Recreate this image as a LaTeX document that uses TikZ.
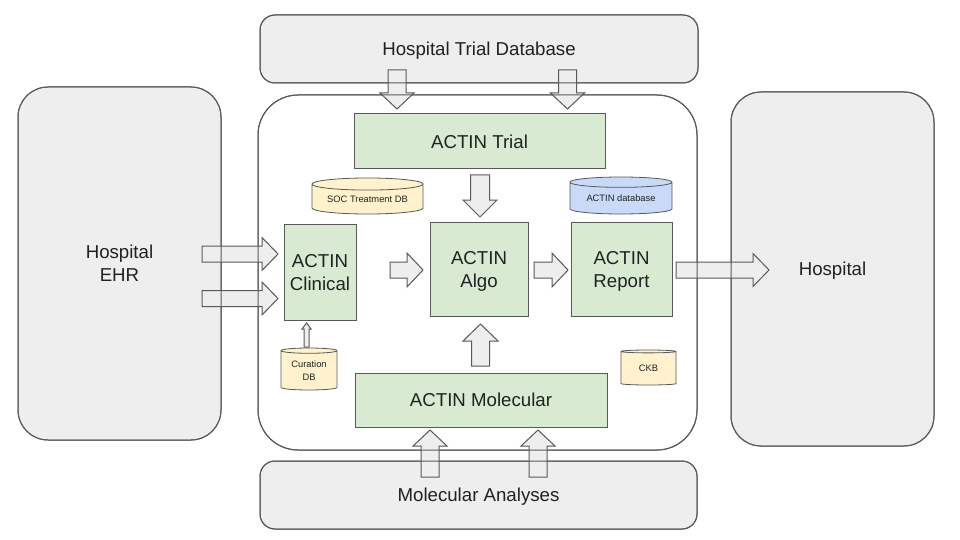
\documentclass[tikz,border=0pt]{standalone}
\usepackage{fontspec}
\setmainfont{Liberation Sans}
\usetikzlibrary{shapes,calc,positioning}
\definecolor{boxgray}{HTML}{EEEEEE}
\definecolor{linegray}{HTML}{595959}
\definecolor{actgreen}{HTML}{D9EAD3}
\definecolor{dbyellow}{HTML}{FFF2CC}
\definecolor{dbblue}{HTML}{C9DAF8}
\definecolor{textdark}{HTML}{202124}
\newcommand{\bigfont}{\fontsize{18.67}{23}\selectfont}
\newcommand{\smallfont}{\fontsize{9.33}{13}\selectfont}
\newcommand{\blockarrow}[5]{%
  \coordinate (ba-s) at (#1);
  \coordinate (ba-e) at (#2);
  \coordinate (ba-h) at ($(ba-e)!#5!(ba-s)$);
  \draw[arrowbox] ($(ba-s)!#3!90:(ba-e)$) -- ($(ba-h)!#3!90:(ba-e)$) -- ($(ba-h)!#4!90:(ba-e)$) -- (ba-e)
    -- ($(ba-h)!#4!-90:(ba-e)$) -- ($(ba-h)!#3!-90:(ba-e)$) -- ($(ba-s)!#3!-90:(ba-e)$) -- cycle;}
\tikzset{
  outer/.style={draw=linegray, fill=boxgray, line width=1pt, rounded corners=#1, text=textdark,
    font=\bigfont, align=center, inner sep=0pt, outer sep=0pt, text depth=0pt},
  outer/.default=15pt,
  actin/.style={draw=linegray, fill=actgreen, line width=1pt, text=textdark, font=\bigfont,
    align=center, inner sep=0pt, outer sep=0pt, text depth=0pt},
  dbase/.style={cylinder, shape border rotate=90, aspect=0.15, draw=linegray, line width=0.8pt,
    font=\smallfont, align=center, inner sep=0pt, outer sep=0pt, text=textdark, anchor=shape center},
  arrowbox/.style={draw=linegray, fill=boxgray, line width=1pt, line join=miter},
}
\begin{document}
\begin{tikzpicture}[x=1pt,y=-1pt]
\fill[white] (0,0) rectangle (960,540);
\useasboundingbox (0,0) rectangle (960,540);
\node[outer] (trialdb) at (479,49) [minimum width=438pt, minimum height=68pt] {Hospital Trial Database};
\node[outer=40pt, fill=white] (core) at (477.5,272.5) [minimum width=439pt, minimum height=355pt] {};
\node[outer=30pt] (ehr) at (119.5,263.5) [minimum width=203pt, minimum height=353pt] {Hospital\\EHR};
\node[outer=30pt] (hosp) at (832.5,269) [minimum width=203pt, minimum height=354pt] {Hospital};
\node[outer] (molan) at (478.5,495) [minimum width=437pt, minimum height=68pt] {Molecular Analyses};
\node[actin] (trial) at (479.5,141.5) [minimum width=251pt, minimum height=55pt] {ACTIN Trial};
\node[actin] (clinical) at (320,272) [minimum width=72pt, minimum height=96pt] {ACTIN\\Clinical};
\node[actin] (algo) at (479,269) [minimum width=98pt, minimum height=94pt] {ACTIN\\Algo};
\node[actin] (report) at (621.5,269) [minimum width=101pt, minimum height=94pt] {ACTIN\\Report};
\node[actin] (molecular) at (481,400) [minimum width=252pt, minimum height=54pt] {ACTIN Molecular};
\node[dbase, fill=dbyellow] (socdb) at (367.5,196) [minimum width=111pt, minimum height=36pt] {SOC Treatment DB};
\node[dbase, fill=dbblue] (actindb) at (621,195.5) [minimum width=102pt, minimum height=37pt] {ACTIN database};
\node[dbase, fill=dbyellow] (curation) at (309,369) [minimum width=56pt, minimum height=42pt] {Curation\\DB};
\node[dbase, fill=dbyellow] (ckb) at (648.5,367.5) [minimum width=55pt, minimum height=35pt] {CKB};
\blockarrow{$(trialdb.south)+(-82,-13)$}{$(trial.north)+(-82.5,-5)$}{9pt}{17pt}{16pt}
\blockarrow{$(trialdb.south)+(88.5,-13)$}{$(trial.north)+(88,-5)$}{9pt}{17pt}{16pt}
\blockarrow{$(trial.south)+(0.5,6)$}{$(algo.north)+(1,-5)$}{9.5pt}{17pt}{17pt}
\blockarrow{$(clinical.east)+(34,-2)$}{$(algo.west)+(-7,1)$}{8pt}{17pt}{16pt}
\blockarrow{$(algo.east)+(6,1)$}{$(report.west)+(-3,1)$}{8pt}{17pt}{16pt}
\blockarrow{$(report.east)+(4,1)$}{$(hosp.west)+(38,1)$}{8pt}{16.5pt}{16pt}
\blockarrow{$(molecular.north)+(-0.5,-7)$}{$(algo.south)+(1.5,8)$}{9pt}{17.5pt}{17pt}
\blockarrow{$(molan.north)+(-48.5,16)$}{$(molecular.south)+(-51,3)$}{9pt}{17pt}{16pt}
\blockarrow{$(molan.north)+(59.5,16)$}{$(molecular.south)+(57,3)$}{9pt}{17pt}{16pt}
\blockarrow{$(ehr.east)+(-19,-9.5)$}{$(clinical.west)+(-6,-18)$}{8pt}{16.5pt}{16pt}
\blockarrow{$(ehr.east)+(-19,35)$}{$(clinical.west)+(-6,26.5)$}{8pt}{16.5pt}{16pt}
\blockarrow{$(curation.north)+(-2.5,-1)$}{$(clinical.south)+(-13.5,3)$}{2.5pt}{4.5pt}{6pt}
% box edges show through the arrows
\foreach \n/\r in {trialdb/15,core/40,ehr/30,hosp/30,molan/15}
  \draw[linegray, line width=1pt, rounded corners=\r pt] (\n.south west) rectangle (\n.north east);
\end{tikzpicture}
\end{document}
